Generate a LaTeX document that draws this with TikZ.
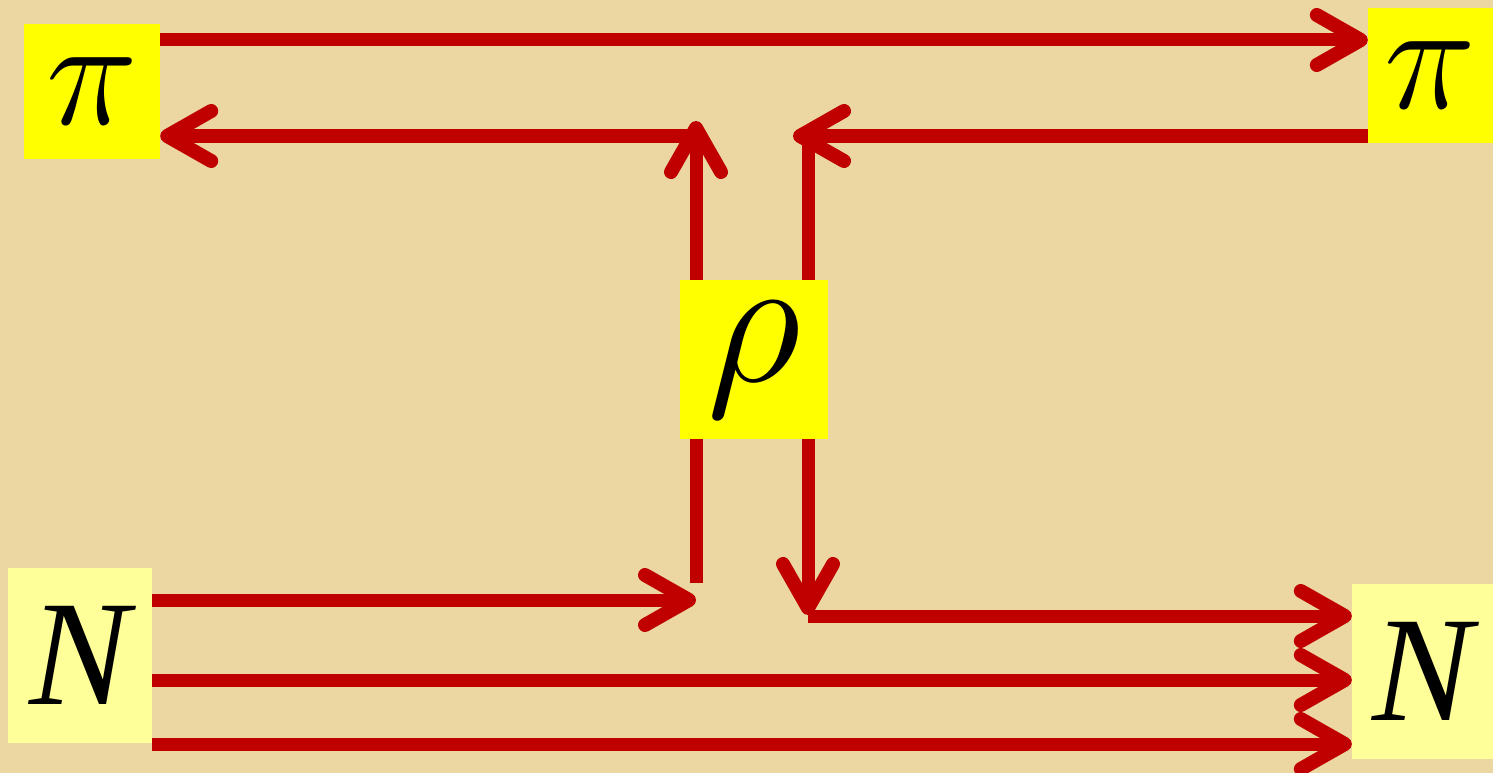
\documentclass[tikz,border=0pt]{standalone}
\usepackage{fix-cm}
\usepackage{fontspec}
\setmainfont{Liberation Serif}
\usetikzlibrary{arrows.meta}
\definecolor{parch}{RGB}{236,215,162}
\definecolor{arrred}{RGB}{192,0,0}
\definecolor{ybright}{RGB}{255,255,0}
\definecolor{ypale}{RGB}{255,255,153}
\begin{document}
\begin{tikzpicture}[x=1pt,y=-1pt,
  ybox/.style={fill=ybright,draw=none,inner sep=0pt,font=\fontsize{155}{155}\selectfont},
  nbox/.style={fill=ypale,draw=none,inner sep=0pt,font=\fontsize{150}{150}\selectfont\itshape},
  arr/.style={draw=arrred,line width=13pt,-{Straight Barb[length=44pt,width=50pt,line width=14pt,round]}},
  ln/.style={draw=arrred,line width=13pt}]
\useasboundingbox (0,0) rectangle (1493,773);
\fill[parch] (0,0) rectangle (1493,773);
% nodes
\node[ybox,minimum width=136pt,minimum height=135pt] (piL) at (92,91.5) {$\pi$};
\node[ybox,minimum width=125pt,minimum height=135pt] (piR) at (1430.5,75.5) {$\pi$};
\node[ybox,minimum width=148pt,minimum height=159pt,font=\fontsize{185}{185}\selectfont] (rho) at (754,359.5) {$\rho$};
\node[nbox,minimum width=144pt,minimum height=175pt] (NL) at (80,655.5) {N};
\node[nbox,minimum width=141pt,minimum height=175pt] (NR) at (1422.5,671.5) {N};
% lanes and junctions
\coordinate (y40) at (0,40);
\coordinate (y136) at (0,136);
\coordinate (y600) at (0,600);
\coordinate (y616) at (0,616);
\coordinate (y680) at (0,680);
\coordinate (y744) at (0,744);
\coordinate (cL) at (696,0);
\coordinate (cR) at (808,0);
\coordinate (tipUp) at (696,121);
\coordinate (startL) at (696,136);
\coordinate (tipR) at (793,136);
\coordinate (topR) at (808,139);
\coordinate (endL) at (696,583);
\coordinate (tipIn) at (696,600);
\coordinate (tipDown) at (808,615);
\coordinate (startR) at (808,616);
% connectors
\draw[arr] (piL.east |- y40) -- (piR.west |- y40);
\draw[arr] (rho.north -| cL) -- (tipUp);
\draw[arr] (startL) -- (piL.east |- y136);
\draw[arr] (piR.west |- y136) -- (tipR);
\draw[ln] (rho.north -| cR) -- (topR);
\draw[ln] (rho.south -| cL) -- (endL);
\draw[arr] (NL.east |- y600) -- (tipIn);
\draw[arr] (rho.south -| cR) -- (tipDown);
\draw[arr] (startR) -- (NR.west |- y616);
\draw[arr] (NL.east |- y680) -- (NR.west |- y680);
\draw[arr] (NL.east |- y744) -- (NR.west |- y744);
\end{tikzpicture}
\end{document}
